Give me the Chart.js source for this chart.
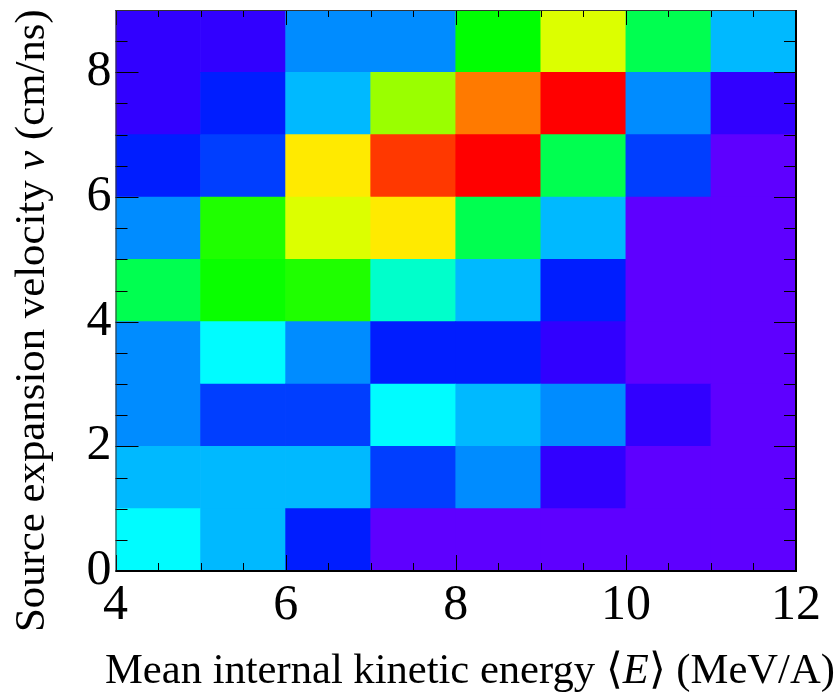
<!DOCTYPE html>
<html>
<head>
<meta charset="utf-8">
<script src="https://cdn.jsdelivr.net/npm/chart.js@4.4.0/dist/chart.umd.min.js"></script>
<style>
  html, body { margin: 0; padding: 0; background: #fff; }
  #wrap { width: 839px; height: 692px; }
</style>
</head>
<body>
<div id="wrap"><canvas id="c" width="839" height="692"></canvas></div>
<script>
// bin edges and axis labels
const xEdges = [4, 5, 6, 7, 8, 9, 10, 11, 12];
const yEdges = [0, 1, 2, 3, 4, 5, 6, 7, 8, 9];
const xTicks = [4, 6, 8, 10, 12];
const yTicks = [0, 2, 4, 6, 8];

// z per velocity bin (0-1, 1-2, ...), left to right along <E>
const zV0 = [31, 25, 11, 0, 0, 0, 0, 0];
const zV1 = [25, 25, 25, 14, 21, 4, 0, 0];
const zV2 = [21, 14, 14, 31, 25, 21, 4, 0];
const zV3 = [21, 31, 21, 11, 11, 4, 0, 0];
const zV4 = [47, 55, 57, 36, 25, 11, 0, 0];
const zV5 = [21, 57, 74, 79, 47, 25, 0, 0];
const zV6 = [11, 14, 79, 95, 100, 47, 14, 0];
const zV7 = [4, 11, 25, 68, 89, 100, 21, 4];
const zV8 = [4, 4, 21, 21, 54, 74, 47, 25];
const zRows = [zV0, zV1, zV2, zV3, zV4, zV5, zV6, zV7, zV8];
const zMin = 0, zMax = 100;

const xTitle = [["Mean internal kinetic energy ", false], ["\u27E8", false], ["E", true], ["\u27E9", false], [" (MeV/A)", false]];
const yTitle = [["Source expansion velocity ", false], ["v", true], [" (cm/ns)", false]];

// rainbow palette, violet (low) -> red (high)
function zColor(z) {
  const t = Math.max(0, Math.min(1, (z - zMin) / (zMax - zMin)));
  return `hsl(${262 * (1 - t)}, 100%, 50%)`;
}

const SERIF = '"Liberation Serif", "Times New Roman", serif';

function drawRuns(ctx, runs, size) {
  let x = 0;
  for (const [txt, it] of runs) {
    ctx.font = `${it ? 'italic ' : ''}${size}px ${SERIF}`;
    ctx.fillText(txt, x, 0);
    x += ctx.measureText(txt).width;
  }
}

// inner ticks on all four sides + frame + axis titles
const frame = {
  id: 'frame',
  afterDatasetsDraw(chart) {
    const { ctx, chartArea: a, scales: { x, y } } = chart;
    ctx.save();
    ctx.strokeStyle = '#000';
    ctx.lineWidth = 1;
    ctx.beginPath();
    for (let v = x.min; v <= x.max + 1e-9; v += 0.5) {
      const px = Math.round(x.getPixelForValue(v)) + 0.5;
      const major = xTicks.includes(v);
      ctx.moveTo(px, a.bottom); ctx.lineTo(px, a.bottom - (major ? 16 : 8));
      ctx.moveTo(px, a.top); ctx.lineTo(px, a.top + (major ? 15 : 7));
    }
    for (let v = y.min; v <= y.max + 1e-9; v += 0.5) {
      const py = Math.round(y.getPixelForValue(v)) + 0.5;
      const major = yTicks.includes(v);
      ctx.moveTo(a.left, py); ctx.lineTo(a.left + (major ? 23 : 12), py);
      ctx.moveTo(a.right, py); ctx.lineTo(a.right - (major ? 22 : 12), py);
    }
    ctx.stroke();
    // frame
    ctx.strokeStyle = '#333';
    ctx.strokeRect(a.left + 0.5, a.top + 0.5, a.right - a.left - 1, a.bottom - a.top - 1);
    ctx.strokeStyle = '#000';
    ctx.lineWidth = 2;
    ctx.beginPath();
    ctx.moveTo(a.left, a.bottom); ctx.lineTo(a.right, a.bottom); ctx.lineTo(a.right, a.top);
    ctx.stroke();
    ctx.restore();
  },
  afterDraw(chart) {
    const ctx = chart.ctx;
    ctx.save();
    ctx.fillStyle = '#000';
    ctx.textBaseline = 'alphabetic';
    ctx.textAlign = 'left';
    ctx.save();
    ctx.translate(105, 683);
    drawRuns(ctx, xTitle, 42.6);
    ctx.restore();
    ctx.save();
    ctx.translate(44, 632);
    ctx.rotate(-Math.PI / 2);
    drawRuns(ctx, yTitle, 42.8);
    ctx.restore();
    ctx.restore();
  }
};

const datasets = zRows.map((row, j) => ({
  data: row.map((z, i) => ({ x: (xEdges[i] + xEdges[i + 1]) / 2, y: [yEdges[j], yEdges[j + 1]], z })),
  backgroundColor: c => zColor(c.raw.z),
  borderWidth: 0,
  barPercentage: 1,
  categoryPercentage: 1,
  grouped: false
}));

const tickFont = { family: SERIF, size: 50 };

new Chart(document.getElementById('c'), {
  type: 'bar',
  data: { datasets },
  options: {
    responsive: false,
    animation: false,
    devicePixelRatio: 1,
    layout: { padding: { top: 10, right: 43, left: 0, bottom: 0 } },
    plugins: { legend: { display: false }, tooltip: { enabled: false } },
    scales: {
      x: {
        type: 'linear', min: xEdges[0], max: xEdges[xEdges.length - 1], offset: false,
        grid: { display: false, drawTicks: false }, border: { display: false },
        afterBuildTicks: s => { s.ticks = xTicks.map(v => ({ value: v })); },
        afterFit: s => { s.height = 121; s.paddingLeft = 0; s.paddingRight = 0; },
        ticks: { font: tickFont, color: '#000', padding: 5, autoSkip: false, maxRotation: 0 }
      },
      y: {
        type: 'linear', min: yEdges[0], max: yEdges[yEdges.length - 1],
        grid: { display: false, drawTicks: false }, border: { display: false },
        afterBuildTicks: s => { s.ticks = yTicks.map(v => ({ value: v })); },
        afterFit: s => { s.width = 115.5; s.paddingTop = 0; s.paddingBottom = 0; },
        ticks: { font: tickFont, color: '#000', padding: 4, autoSkip: false }
      }
    }
  },
  plugins: [frame]
});
</script>
</body>
</html>
